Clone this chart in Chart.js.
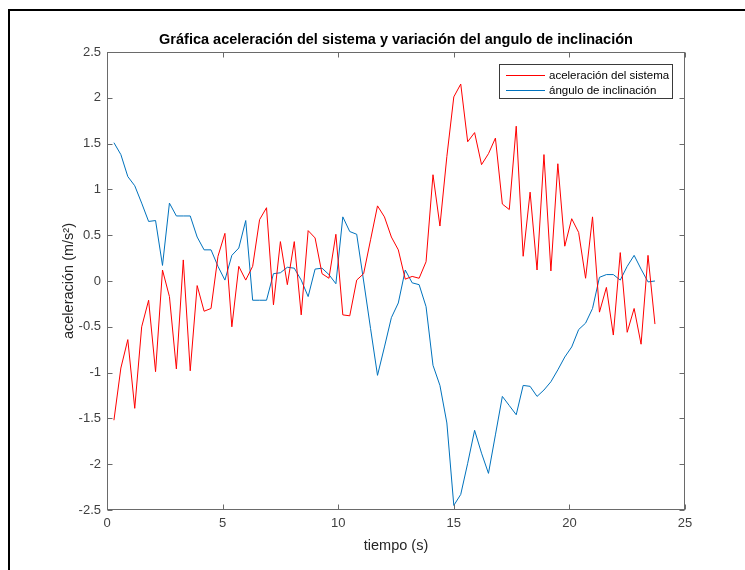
<!DOCTYPE html>
<html lang="es">
<head>
<meta charset="utf-8">
<title>Gráfica aceleración del sistema</title>
<script src="https://cdn.jsdelivr.net/npm/chart.js@4.4.1/dist/chart.umd.min.js"></script>
<style>
  html, body { margin: 0; padding: 0; background: #fff; }
  #wrap { width: 745px; height: 570px; }
</style>
</head>
<body>
<div id="wrap"><canvas id="accelChart" width="745" height="570"></canvas></div>
<script>
// ── Data ────────────────────────────────────────────────
const tiempo = [
  0.3, 0.6, 0.9, 1.2, 1.5, 1.8, 2.1, 2.4, 2.7, 3.0,
  3.3, 3.6, 3.9, 4.2, 4.5, 4.8, 5.1, 5.4, 5.7, 6.0,
  6.3, 6.6, 6.9, 7.2, 7.5, 7.8, 8.1, 8.4, 8.7, 9.0,
  9.3, 9.6, 9.9, 10.2, 10.5, 10.8, 11.1, 11.4, 11.7, 12.0,
  12.3, 12.6, 12.9, 13.2, 13.5, 13.8, 14.1, 14.4, 14.7, 15.0,
  15.3, 15.6, 15.9, 16.2, 16.5, 16.8, 17.1, 17.4, 17.7, 18.0,
  18.3, 18.6, 18.9, 19.2, 19.5, 19.8, 20.1, 20.4, 20.7, 21.0,
  21.3, 21.6, 21.9, 22.2, 22.5, 22.8, 23.1, 23.4, 23.7
];

const aceleracion = [
  -1.52, -0.95, -0.64, -1.39, -0.50, -0.21, -0.99, 0.12, -0.17, -0.96,
  0.23, -0.98, -0.05, -0.33, -0.30, 0.27, 0.52, -0.50, 0.16, 0.01,
  0.16, 0.67, 0.80, -0.26, 0.43, -0.04, 0.43, -0.37, 0.55, 0.47,
  0.08, 0.03, 0.51, -0.37, -0.38, 0.01, 0.08, 0.45, 0.82, 0.70,
  0.48, 0.34, 0.02, 0.05, 0.03, 0.21, 1.16, 0.60, 1.36, 2.01,
  2.15, 1.52, 1.62, 1.27, 1.39, 1.56, 0.84, 0.78, 1.69, 0.27,
  0.97, 0.12, 1.38, 0.11, 1.28, 0.38, 0.68, 0.53, 0.03, 0.70,
  -0.34, -0.07, -0.59, 0.31, -0.56, -0.30, -0.69, 0.28, -0.47
];

const angulo = [
  1.51, 1.38, 1.14, 1.04, 0.85, 0.65, 0.66, 0.17, 0.85, 0.71,
  0.71, 0.71, 0.48, 0.34, 0.34, 0.16, 0.01, 0.28, 0.36, 0.66,
  -0.21, -0.21, -0.21, 0.08, 0.09, 0.15, 0.14, 0.01, -0.17, 0.13,
  0.14, 0.07, -0.03, 0.70, 0.54, 0.51, 0.00, -0.52, -1.03, -0.72,
  -0.40, -0.24, 0.12, -0.02, -0.04, -0.28, -0.92, -1.14, -1.55, -2.45,
  -2.33, -1.99, -1.63, -1.88, -2.10, -1.68, -1.26, -1.36, -1.46, -1.14,
  -1.15, -1.26, -1.19, -1.10, -0.97, -0.83, -0.72, -0.53, -0.46, -0.30,
  0.04, 0.07, 0.07, 0.01, 0.16, 0.28, 0.13, -0.01, 0.00
];

const xTicks = [0, 5, 10, 15, 20, 25];
const yTicks = [-2.5, -2, -1.5, -1, -0.5, 0, 0.5, 1, 1.5, 2, 2.5];

const seriesNames = ["aceleración del sistema", "ángulo de inclinación"];

document.addEventListener("DOMContentLoaded", () => {

  const FONT = "'Liberation Sans', Arial, Helvetica, sans-serif";
  const AXIS_GREY = "#6a6a6a";
  const TEXT_GREY = "#404040";

  // ── Page frame, MATLAB-style box, inward ticks, legend ──
  const matlabFrame = {
    id: "matlabFrame",
    beforeDraw(chart) {
      const ctx = chart.ctx;
      ctx.save();
      ctx.fillStyle = "#fff";
      ctx.fillRect(0, 0, chart.width, chart.height);
      ctx.strokeStyle = "#000";
      ctx.lineWidth = 2;
      ctx.beginPath();
      ctx.moveTo(9, chart.height);
      ctx.lineTo(9, 10);
      ctx.lineTo(chart.width, 10);
      ctx.stroke();
      ctx.restore();
    },
    afterDatasetsDraw(chart) {
      const { ctx, chartArea: a, scales } = chart;
      const L = a.left + 0.5, R = a.right - 0.5, T = a.top + 0.5, B = a.bottom - 0.5;
      const tick = 5;

      ctx.save();
      ctx.strokeStyle = AXIS_GREY;
      ctx.lineWidth = 1;
      ctx.strokeRect(L, T, R - L, B - T);

      ctx.beginPath();
      xTicks.forEach(v => {
        const px = Math.round(scales.x.getPixelForValue(v)) + 0.5;
        ctx.moveTo(px, B); ctx.lineTo(px, B - tick);
        ctx.moveTo(px, T); ctx.lineTo(px, T + tick);
      });
      yTicks.forEach(v => {
        const py = Math.round(scales.y.getPixelForValue(v)) + 0.5;
        ctx.moveTo(L, py); ctx.lineTo(L + tick, py);
        ctx.moveTo(R, py); ctx.lineTo(R - tick, py);
      });
      ctx.stroke();

      // legend box
      const lx = 499.5, ly = 64.5, lw = 173, lh = 34;
      ctx.fillStyle = "#fff";
      ctx.fillRect(lx, ly, lw, lh);
      ctx.strokeStyle = "#3a3a3a";
      ctx.strokeRect(lx, ly, lw, lh);

      ctx.font = "11.5px " + FONT;
      ctx.textBaseline = "middle";
      ctx.textAlign = "left";
      chart.data.datasets.forEach((ds, i) => {
        const y = Math.round(ly + 10 + i * 15) + 0.5;
        ctx.strokeStyle = ds.borderColor;
        ctx.beginPath();
        ctx.moveTo(506, y); ctx.lineTo(545, y);
        ctx.stroke();
        ctx.fillStyle = "#000";
        ctx.fillText(ds.label, 549, y);
      });
      ctx.restore();
    }
  };

  const ctx = document.getElementById("accelChart").getContext("2d");

  new Chart(ctx, {
    type: "line",
    data: {
      datasets: [
        {
          label: seriesNames[0],
          data: tiempo.map((t, i) => ({ x: t, y: aceleracion[i] })),
          borderColor: "#ff0000",
          borderWidth: 1,
          pointRadius: 0,
          tension: 0
        },
        {
          label: seriesNames[1],
          data: tiempo.map((t, i) => ({ x: t, y: angulo[i] })),
          borderColor: "#0072bd",
          borderWidth: 1,
          pointRadius: 0,
          tension: 0
        }
      ]
    },
    options: {
      responsive: false,
      animation: false,
      devicePixelRatio: 1,
      layout: { padding: { left: 0, right: 60, top: 0, bottom: 0 } },
      scales: {
        x: {
          type: "linear",
          min: 0,
          max: 25,
          afterBuildTicks: s => { s.ticks = xTicks.map(v => ({ value: v })); },
          afterFit: s => { s.height = 60; },
          grid: { display: false, drawTicks: false },
          border: { display: false },
          ticks: {
            color: TEXT_GREY,
            font: { family: FONT, size: 13 },
            padding: 6,
            maxRotation: 0,
            callback: v => String(v)
          },
          title: {
            display: true,
            text: "tiempo (s)",
            color: "#262626",
            font: { family: FONT, size: 14.5, lineHeight: 1.2 },
            padding: { top: 0, bottom: 15 }
          }
        },
        y: {
          min: -2.5,
          max: 2.5,
          afterBuildTicks: s => { s.ticks = yTicks.map(v => ({ value: v })); },
          afterFit: s => { s.width = 107; },
          grid: { display: false, drawTicks: false },
          border: { display: false },
          ticks: {
            color: TEXT_GREY,
            font: { family: FONT, size: 13 },
            padding: 6,
            callback: v => String(v)
          },
          title: {
            display: true,
            text: "aceleración (m/s²)",
            color: "#262626",
            font: { family: FONT, size: 14.5, lineHeight: 1.2 },
            padding: { top: 60, bottom: 0 }
          }
        }
      },
      plugins: {
        legend: { display: false },
        tooltip: { enabled: false },
        title: {
          display: true,
          fullSize: false,
          text: "Gráfica aceleración del sistema y variación del angulo de inclinación",
          color: "#000",
          font: { family: FONT, size: 14.5, weight: "bold", lineHeight: 1.2 },
          padding: { top: 31, bottom: 3.6 }
        }
      }
    },
    plugins: [matlabFrame]
  });
});
</script>
</body>
</html>
